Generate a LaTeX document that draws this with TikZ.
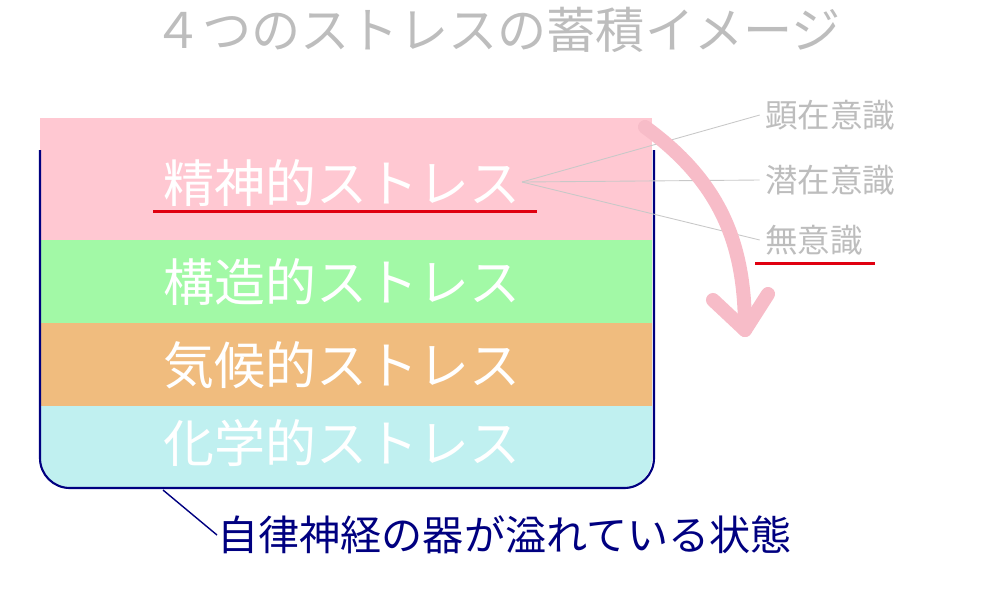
\documentclass[tikz,border=0pt]{standalone}
\usepackage{fontspec}
\setmainfont{Noto Sans CJK JP}
\usetikzlibrary{positioning}
\definecolor{seishin}{HTML}{FFC8D2}
\definecolor{kouzou}{HTML}{A2F9A6}
\definecolor{kikou}{HTML}{F0BC7E}
\definecolor{kagaku}{HTML}{C0F0F0}
\definecolor{utsuwa}{HTML}{000080}
\definecolor{usuzumi}{HTML}{BDBDBD}
\definecolor{sen}{HTML}{C8C8C8}
\definecolor{aka}{HTML}{E00010}
\definecolor{yajirushi}{HTML}{F7BCC8}
\tikzset{
	layertext/.style={text=white, font=\fontsize{29}{30}\selectfont, inner sep=0pt},
	ishiki/.style={text=usuzumi, font=\fontsize{18.5}{20}\selectfont, inner sep=0pt, anchor=west},
	akasen/.style={aka, line width=1.7pt}
}
\begin{document}
\begin{tikzpicture}[x=0.02cm, y=-0.02cm]
	\useasboundingbox (0,0) rectangle (1000,600);
	
	\node[text=usuzumi, font=\fontsize{28}{30}\selectfont, inner sep=0pt] (title) at (497,30) {４つのストレスの蓄積イメージ};
	
	% layers
	\fill[kagaku, rounded corners=17pt] (40,360) rectangle (652,488);
	\fill[seishin] (40,118) rectangle (652,240);
	\fill[kouzou] (40,240) rectangle (652,323);
	\fill[kikou] (40,323) rectangle (652,406);
	\draw[utsuwa, line width=1.2pt, rounded corners=17pt] (40,150) -- (40,488) -- (654,488) -- (654,150);
	
	\node[layertext] (seishinL) at (342,183) {精神的ストレス};
	\node[layertext] (kouzouL) at (342,282) {構造的ストレス};
	\node[layertext] (kikouL) at (342,365) {気候的ストレス};
	\node[layertext] (kagakuL) at (342,443) {化学的ストレス};
	\draw[akasen] (153,211) -- (537,211);
	
	% three levels
	\node[ishiki] (kenzai) at (765,115) {顕在意識};
	\node[ishiki] (senzai) at (765,180) {潜在意識};
	\node[ishiki] (muishiki) at (765,240) {無意識};
	\draw[akasen] (755,263) -- (875,263);
	\coordinate (bunki) at (522,182);
	\draw[sen, line width=0.5pt] (bunki) -- ([xshift=-3pt]kenzai.west);
	\draw[sen, line width=0.5pt] (bunki) -- ([xshift=-3pt]senzai.west);
	\draw[sen, line width=0.5pt] (bunki) -- ([xshift=-3pt]muishiki.west);
	
	% overflow arrow
	\draw[yajirushi, line width=8pt, line cap=round, line join=round] (645,127) .. controls (725,185) and (745,250) .. (745,330);
	\draw[yajirushi, line width=8pt, line cap=round, line join=round] (713,300) -- (745,330) -- (768,294);
	
	\node[text=utsuwa, font=\fontsize{23.4}{24}\selectfont, inner sep=0pt, anchor=west] (afureru) at (217,535) {自律神経の器が溢れている状態};
	\coordinate (soko) at (163,490);
	\draw[utsuwa, line width=0.8pt] (soko) -- (afureru.west);
\end{tikzpicture}
\end{document}
